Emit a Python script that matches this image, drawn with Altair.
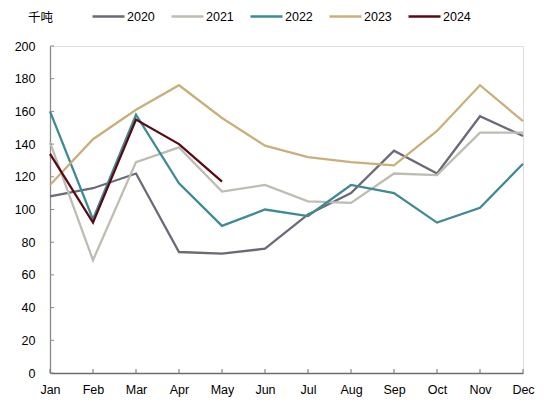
import altair as alt
import pandas as pd

months = ["Jan", "Feb", "Mar", "Apr", "May", "Jun", "Jul", "Aug", "Sep", "Oct", "Nov", "Dec"]
years = ["2020", "2021", "2022", "2023", "2024"]
colors = ["#6a6a78", "#bdbdb3", "#3f8a93", "#c9b07a", "#5a0a14"]

v2020 = [108, 113, 122, 74, 73, 76, 97, 110, 136, 122, 157, 145]
v2021 = [141, 69, 129, 138, 111, 115, 105, 104, 122, 121, 147, 147]
v2022 = [160, 94, 158, 116, 90, 100, 96, 115, 110, 92, 101, 128]
v2023 = [115, 143, 161, 176, 156, 139, 132, 129, 127, 148, 176, 154]
v2024 = [134, 92, 155, 140, 117]

y_ticks = [0, 20, 40, 60, 80, 100, 120, 140, 160, 180, 200]

series = {"2020": v2020, "2021": v2021, "2022": v2022, "2023": v2023, "2024": v2024}
rows = []
for yr, vals in series.items():
    for i, v in enumerate(vals):
        rows.append({"month": months[i], "year": yr, "value": v, "order": i})
df = pd.DataFrame(rows)

W, H = 473, 327
FONT = "Liberation Sans"

x_scale = alt.Scale(type="point", domain=months, padding=0)
y_scale = alt.Scale(domain=[0, 200])

x_axis = alt.Axis(title=None, labelAngle=0, ticks=False, labelPadding=10,
                  domainColor="#6e6e6e", domainWidth=1.3, grid=False,
                  labelOverlap=False,
                  labelFont=FONT, labelFontSize=12.5, labelColor="#000000")
y_axis = alt.Axis(values=y_ticks, ticks=False, labelPadding=15, grid=False,
                  labelOverlap=False,
                  domainColor="#8a8a8a", domainWidth=1.3,
                  labelFont=FONT, labelFontSize=12.5, labelColor="#000000",
                  title="千吨", titleAngle=0, titleX=-10, titleY=-29,
                  titleAlign="center", titleBaseline="middle",
                  titleFont="Noto Sans CJK SC", titleFontSize=12.5,
                  titleFontWeight="normal", titleColor="#000000")

lines = alt.Chart(df).mark_line(strokeWidth=2.3).encode(
    x=alt.X("month:N", scale=x_scale, sort=months, axis=x_axis),
    y=alt.Y("value:Q", scale=y_scale, axis=y_axis),
    color=alt.Color("year:N", scale=alt.Scale(domain=years, range=colors),
                    legend=alt.Legend(title=None, orient="none", direction="horizontal",
                                      legendX=41, legendY=-47, symbolType="stroke",
                                      symbolSize=1024, symbolStrokeWidth=2.5,
                                      labelFont=FONT, labelFontSize=12.5, labelColor="#000000",
                                      labelOffset=1, columnPadding=11, padding=0)),
    order=alt.Order("order:Q"),
)

ytick_df = pd.DataFrame({"value": y_ticks})
yticks = alt.Chart(ytick_df).mark_rule(color="#8a8a8a", strokeWidth=1).encode(
    y=alt.Y("value:Q", scale=y_scale, axis=y_axis),
    x=alt.value(0),
    x2=alt.value(4),
)

xtick_df = pd.DataFrame({"month": months})
xticks = alt.Chart(xtick_df).mark_rule(color="#6e6e6e", strokeWidth=1).encode(
    x=alt.X("month:N", scale=x_scale, sort=months, axis=x_axis),
    y=alt.value(H),
    y2=alt.value(H - 4),
)

chart = alt.layer(lines, yticks, xticks).properties(
    width=W, height=H,
    autosize=alt.AutoSizeParams(type="none"),
    padding={"left": 42, "top": 38, "right": 15, "bottom": 28},
).configure_view(stroke=None).configure_axis(labelOverlap=False).configure(background="#ffffff")

chart.save("out.html", embed_options={"renderer": "svg", "actions": False})
